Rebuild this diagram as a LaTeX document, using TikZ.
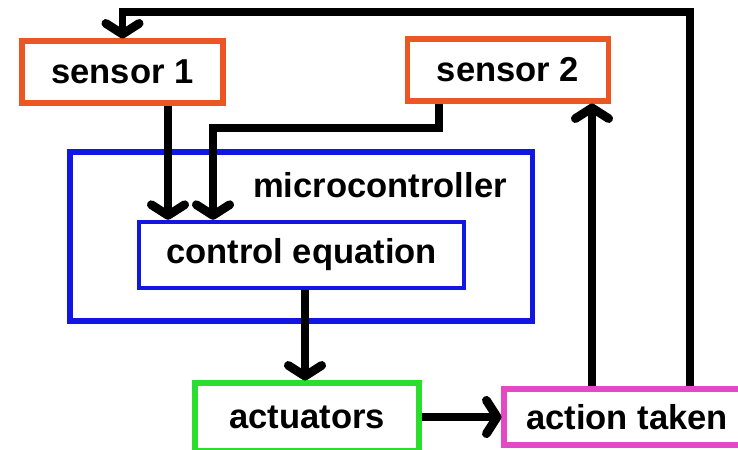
\documentclass[tikz,border=0pt]{standalone}
\usepackage{fontspec}
\setmainfont{Liberation Sans}
\usetikzlibrary{arrows.meta,positioning}
\definecolor{sensorred}{RGB}{236,86,36}
\definecolor{mcblue}{RGB}{18,22,226}
\definecolor{actgreen}{RGB}{44,222,44}
\definecolor{takenpink}{RGB}{228,72,196}

\begin{document}
\begin{tikzpicture}
	[x=0.03cm, y=-0.03cm, inner sep=0pt,
	font=\fontsize{29.5}{32}\selectfont\bfseries,
	sensor/.style	= {rectangle, draw=sensorred, line width=4.3pt, minimum width=6.03cm, minimum height=1.86cm},
	mcbox/.style	= {rectangle, draw=mcblue, line width=4.3pt},
	actbox/.style	= {rectangle, draw=actgreen, line width=4.3pt, minimum width=6.72cm, minimum height=2.04cm},
	takenbox/.style	= {rectangle, draw=takenpink, line width=4.3pt, minimum width=7.38cm, minimum height=1.68cm},
	paths/.style	= {line width=6.5pt, -{Straight Barb[length=0.32cm, width=1cm, line width=7.5pt, round]}}]
	
	\clip (0, 0) rectangle (738, 449);
	
	\node at (122.5, 72)	[sensor]	(s1)	{sensor 1};
	\node at (508, 70)		[sensor]	(s2)	{sensor 2};
	
	\node at (301, 236.5)	[mcbox, minimum width=13.86cm, minimum height=5.07cm]	(mc)	{};
	\node at (380, 185)					(mclabel)	{microcontroller};
	\node at (301.5, 255)	[mcbox, line width=3.8pt, minimum width=9.75cm, minimum height=1.98cm]	(ctrl)	{control equation};
	
	\node at (307, 417)		[actbox]	(act)	{actuators};
	\node at (627, 417)		[takenbox]	(taken)	{action taken};
	
	\coordinate (fbr) at (690, 12);
	\coordinate (fbs) at (592, 0);
	\coordinate (in1) at (168, 0);
	\coordinate (in2) at (213, 128);
	\coordinate (out2) at (439, 0);
	\coordinate (down) at (305, 0);
	
	\draw [paths] (taken.north -| fbr) -- (fbr) -| (s1.north);
	\draw [paths] (taken.north -| fbs) -- (s2.south -| fbs);
	
	\draw [paths] (s1.south -| in1) -- (ctrl.north -| in1);
	\draw [paths] (s2.south -| out2) |- (in2) -- (ctrl.north -| in2);
	
	\draw [paths] (ctrl.south -| down) -- (act.north -| down);
	\draw [paths] (act.east) -- (taken.west);
\end{tikzpicture}
\end{document}
